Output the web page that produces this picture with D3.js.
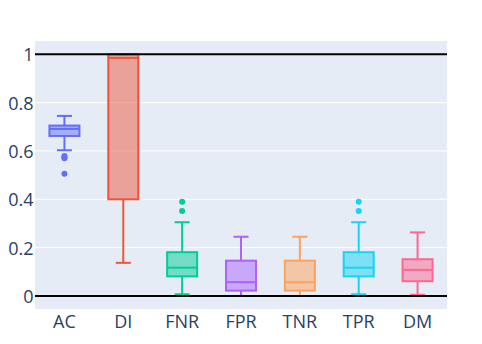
<!DOCTYPE html>
<html>
<head>
<meta charset="utf-8">
<script src="https://cdn.jsdelivr.net/npm/d3@7"></script>
<style>
  body { margin: 0; background: #fff; }
  text { font-family: "Open Sans", sans-serif; fill: #2a3f5f; }
</style>
</head>
<body>
<svg id="chart" width="482" height="344"></svg>
<script>
// box statistics
var categories = ['AC', 'DI', 'FNR', 'FPR', 'TNR', 'TPR', 'DM'];
var colors = ['#636efa', '#EF553B', '#00cc96', '#ab63fa', '#FFA15A', '#19d3f3', '#FF6692'];
var lowFence = [0.603, 0.137, 0.007, 0.0, 0.0, 0.007, 0.005];
var q1 = [0.662, 0.400, 0.081, 0.022, 0.022, 0.081, 0.061];
var median = [0.691, 0.985, 0.117, 0.057, 0.057, 0.117, 0.108];
var q3 = [0.705, 1.0, 0.181, 0.146, 0.146, 0.181, 0.152];
var highFence = [0.745, 1.0, 0.305, 0.245, 0.245, 0.305, 0.263];
var outliers = [[0.579, 0.575, 0.57, 0.506], [], [0.39, 0.352], [], [], [0.39, 0.352], []];
var yTicks = [0, 0.2, 0.4, 0.6, 0.8, 1];
var refLines = [0, 1];

var svg = d3.select('#chart');
var margin = {left: 35, right: 35, top: 41, bottom: 35};
var width = 482 - margin.left - margin.right;
var height = 344 - margin.top - margin.bottom;

var x = d3.scaleBand().domain(categories).range([0, width]);
var y = d3.scaleLinear().domain([-0.054, 1.055]).range([height, 0]);

var g = svg.append('g').attr('transform', 'translate(' + margin.left + ',' + margin.top + ')');

g.append('rect').attr('width', width).attr('height', height).attr('fill', '#E5ECF6');

// grid
g.selectAll('.grid').data(yTicks.filter(function(t) { return refLines.indexOf(t) < 0; }))
  .enter().append('line')
  .attr('x1', 0).attr('x2', width)
  .attr('y1', function(d) { return y(d); }).attr('y2', function(d) { return y(d); })
  .attr('stroke', '#fff').attr('stroke-width', 1);

// y axis
var yAxis = d3.axisLeft(y).tickValues(yTicks).tickSize(0).tickPadding(1.5)
  .tickFormat(function(d) { return d === 0 || d === 1 ? d3.format('d')(d) : d3.format('.1f')(d); });
g.append('g').call(yAxis).call(function(a) {
  a.select('.domain').remove();
  a.selectAll('text').style('font-size', '18px').attr('fill', '#2a3f5f').attr('dy', '0.37em');
});

// x axis
var xAxis = d3.axisBottom(x).tickSize(0).tickPadding(6.5);
g.append('g').attr('transform', 'translate(0,' + height + ')').call(xAxis).call(function(a) {
  a.select('.domain').remove();
  a.selectAll('text').style('font-size', '18px').attr('fill', '#2a3f5f');
});

var boxW = x.bandwidth() * 0.51;
var capW = boxW / 2;

var boxes = g.selectAll('.box').data(categories).enter().append('g')
  .attr('transform', function(d) { return 'translate(' + (x(d) + x.bandwidth() / 2) + ',0)'; });

boxes.each(function(d, i) {
  var b = d3.select(this);
  var c = colors[i];
  // whiskers
  b.append('line').attr('x1', 0).attr('x2', 0)
    .attr('y1', y(q3[i])).attr('y2', y(highFence[i])).attr('stroke', c).attr('stroke-width', 2);
  b.append('line').attr('x1', 0).attr('x2', 0)
    .attr('y1', y(q1[i])).attr('y2', y(lowFence[i])).attr('stroke', c).attr('stroke-width', 2);
  b.append('line').attr('x1', -capW / 2).attr('x2', capW / 2)
    .attr('y1', y(highFence[i])).attr('y2', y(highFence[i])).attr('stroke', c).attr('stroke-width', 2);
  b.append('line').attr('x1', -capW / 2).attr('x2', capW / 2)
    .attr('y1', y(lowFence[i])).attr('y2', y(lowFence[i])).attr('stroke', c).attr('stroke-width', 2);
  // box
  b.append('rect').attr('x', -boxW / 2).attr('width', boxW)
    .attr('y', y(q3[i])).attr('height', y(q1[i]) - y(q3[i]))
    .attr('fill', c).attr('fill-opacity', 0.5).attr('stroke', c).attr('stroke-width', 2);
  b.append('line').attr('x1', -boxW / 2).attr('x2', boxW / 2)
    .attr('y1', y(median[i])).attr('y2', y(median[i])).attr('stroke', c).attr('stroke-width', 2);
  // outliers
  b.selectAll('circle').data(outliers[i]).enter().append('circle')
    .attr('cx', 0).attr('cy', function(v) { return y(v); }).attr('r', 3).attr('fill', c);
});

// reference lines
g.selectAll('.ref').data(refLines).enter().append('line')
  .attr('x1', 0).attr('x2', width)
  .attr('y1', function(d) { return y(d); }).attr('y2', function(d) { return y(d); })
  .attr('stroke', '#000').attr('stroke-width', 2);
</script>
</body>
</html>
